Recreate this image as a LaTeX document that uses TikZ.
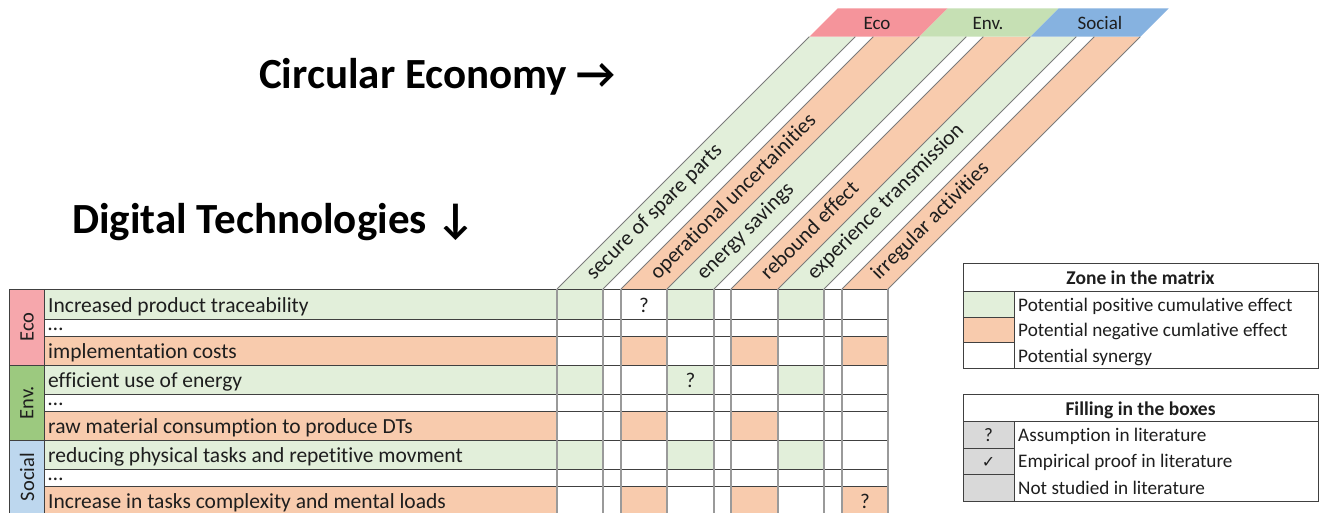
\documentclass[tikz,border=0pt]{standalone}
\usepackage{fontspec}
\setmainfont{Carlito}[Ligatures={NoCommon}]
\newfontfamily\djv{DejaVu Sans}
\definecolor{cgreen}{HTML}{E2EFDA}
\definecolor{corange}{HTML}{F8CBAD}
\definecolor{hpink}{HTML}{F5949B}
\definecolor{hgreen}{HTML}{C6E0B4}
\definecolor{hblue}{HTML}{86B2E0}
\definecolor{lpink}{HTML}{F6A7AC}
\definecolor{lgreen}{HTML}{9CC97F}
\definecolor{lblue}{HTML}{BDD7EE}
\definecolor{lgray}{HTML}{D9D9D9}
\definecolor{vgray}{HTML}{9A9A9A}
\definecolor{hgray}{HTML}{404040}
\definecolor{txt}{HTML}{1E1E1E}
\tikzset{
  vline/.style={draw=vgray, line width=1.3pt},
  hline/.style={draw=hgray, line width=0.9pt},
  sline/.style={draw=vgray!80!black, line width=0.9pt},
  lline/.style={draw=hgray, line width=1pt},
  rowtext/.style={font=\fontsize{21.5}{24}\selectfont, anchor=base west, inner sep=0pt, text=txt},
  coltext/.style={font=\fontsize{21.5}{24}\selectfont, anchor=base west, inner sep=0pt, rotate=45, text=txt},
  hdrtext/.style={font=\fontsize{19}{22}\selectfont, anchor=base, inner sep=0pt, text=txt},
  cattext/.style={font=\fontsize{20.5}{22}\selectfont, rotate=90, inner sep=0pt, text=txt},
  titletext/.style={font=\fontsize{43}{48}\selectfont\bfseries, anchor=base west, inner sep=0pt, text=black},
  legtext/.style={font=\fontsize{19.2}{22}\selectfont, anchor=base west, inner sep=0pt, text=txt},
  leghead/.style={font=\fontsize{19.5}{22}\selectfont\bfseries, anchor=base, inner sep=0pt, text=txt},
  qmark/.style={font=\fontsize{21}{24}\selectfont, anchor=base, inner sep=0pt, text=txt},
}
\begin{document}
\begin{tikzpicture}[x=1pt,y=-1pt]
\useasboundingbox (0,0) rectangle (1320,513);
\fill[white] (0,0) rectangle (1320,513);
\begin{scope}
\clip (0,0) rectangle (1320,513);
\def\sh{252.3}
\def\shb{280.7}
% slanted column fills
\foreach \xa/\xb/\cl in {557/603/cgreen, 603/621/white, 621/667/corange, 667/714/cgreen, 714/731/white, 731/778/corange, 778/824/cgreen, 824/842/white, 842/888/corange}
  \fill[\cl] (\xa,289) -- (\xb,289) -- (\xb+\sh,36.7) -- (\xa+\sh,36.7) -- cycle;
% header band
\fill[hpink] (557+\sh,36.7) -- (667+\sh,36.7) -- (667+\shb,8.3) -- (557+\shb,8.3) -- cycle;
\fill[hgreen] (667+\sh,36.7) -- (778+\sh,36.7) -- (778+\shb,8.3) -- (667+\shb,8.3) -- cycle;
\fill[hblue] (778+\sh,36.7) -- (888+\sh,36.7) -- (888+\shb,8.3) -- (778+\shb,8.3) -- cycle;
\node[hdrtext] (hEco) at (877,30) {Eco};
\node[hdrtext] (hEnv) at (988,30) {Env.};
\node[hdrtext] (hSoc) at (1100,30) {Social};
% slanted lines
\foreach \x in {557,603,621,667,714,731,778,824,842,888}
  \draw[sline] (\x,289) -- (\x+\sh,36.7);
% column labels
\node[coltext] (c1) at (594,281) {secure of spare parts};
\node[coltext] (c3) at (658,281) {operational uncertainities};
\node[coltext] (c4) at (704.5,281) {energy savings};
\node[coltext] (c6) at (768.5,281) {rebound effect};
\node[coltext] (c7) at (815,281) {experience transmission};
\node[coltext] (c9) at (879,281) {irregular activities};
% row label fills
\foreach \ya/\yb/\cl in {289/319/cgreen, 319/336/white, 336/365/corange, 365/394/cgreen, 394/411/white, 411/440/corange, 440/469/cgreen, 469/486/white, 486/515/corange}
  \fill[\cl] (44,\ya) rectangle (557,\yb);
% matrix cells
\foreach \ya/\yb in {289/319, 365/394, 440/469}
  \foreach \xa/\xb in {557/603, 667/714, 778/824}
    \fill[cgreen] (\xa,\ya) rectangle (\xb,\yb);
\foreach \ya/\yb in {336/365, 486/515}
  \foreach \xa/\xb in {621/667, 731/778, 842/888}
    \fill[corange] (\xa,\ya) rectangle (\xb,\yb);
\foreach \xa/\xb in {621/667, 731/778}
  \fill[corange] (\xa,411) rectangle (\xb,440);
% category boxes
\fill[lpink] (9,289) rectangle (44,365);
\fill[lgreen] (9,365) rectangle (44,440);
\fill[lblue] (9,440) rectangle (44,515);
% grid lines
\foreach \y in {289,319,336,365,394,411,440,469,486}
  \draw[hline] (44,\y) -- (888,\y);
\foreach \y in {289,365,440}
  \draw[hline] (9,\y) -- (44,\y);
\draw[hline] (9,289) -- (9,515);
\draw[hline] (44,289) -- (44,515);
\foreach \x in {557,603,621,667,714,731,778,824,842,888}
  \draw[vline] (\x,289) -- (\x,515);
% category labels
\node[cattext] (kEco) at (27,327) {Eco};
\node[cattext] (kEnv) at (27,402.5) {Env.};
\node[cattext] (kSoc) at (27,477) {Social};
% row labels
\node[rowtext] (r1) at (48,312.5) {Increased product traceability};
\node[rowtext] (r2) at (48,330.5) {…};
\node[rowtext] (r3) at (48,358.5) {implementation costs};
\node[rowtext] (r4) at (48,387.5) {efficient use of energy};
\node[rowtext] (r5) at (48,405.5) {…};
\node[rowtext] (r6) at (48,433.5) {raw material consumption to produce DTs};
\node[rowtext] (r7) at (48,462.5) {reducing physical tasks and repetitive movment};
\node[rowtext] (r8) at (48,480.5) {…};
\node[rowtext] (r9) at (48,508.5) {Increase in tasks complexity and mental loads};
% question marks
\node[qmark] (q1) at (644,312) {?};
\node[qmark] (q2) at (690.5,387) {?};
\node[qmark] (q3) at (865,508) {?};
\end{scope}
% titles
\node[titletext] (tCE) at (259,89) {Circular Economy →};
\node[titletext] (tDT) at (72,234) {Digital Technologies ↓};
% legend: zone
\fill[cgreen] (963,291) rectangle (1014,317);
\fill[corange] (963,317) rectangle (1014,342);
\draw[lline] (963,263) rectangle (1318,368);
\draw[lline] (963,291) -- (1318,291);
\draw[lline] (1014,291) -- (1014,368);
\draw[lline] (963,317) -- (1014,317);
\draw[lline] (963,342) -- (1014,342);
\node[leghead] (zh) at (1140.5,284) {Zone in the matrix};
\node[legtext] (z1) at (1018,311) {Potential positive cumulative effect};
\node[legtext] (z2) at (1018,336) {Potential negative cumlative effect};
\node[legtext] (z3) at (1018,362) {Potential synergy};
% legend: filling
\fill[lgray] (963,421) rectangle (1014,501);
\draw[lline] (963,394) rectangle (1318,501);
\draw[lline] (963,421) -- (1318,421);
\draw[lline] (1014,421) -- (1014,501);
\draw[lline] (963,448) -- (1014,448);
\draw[lline] (963,474) -- (1014,474);
\node[leghead] (fh) at (1140.5,415) {Filling in the boxes};
\node[qmark, font=\fontsize{19}{22}\selectfont] (f1s) at (988.5,441) {?};
\node[qmark, font=\djv\fontsize{16}{20}\selectfont] (f2s) at (988.5,467) {✓};
\node[legtext] (f1) at (1018,441) {Assumption in literature};
\node[legtext] (f2) at (1018,467) {Empirical proof in literature};
\node[legtext] (f3) at (1018,494) {Not studied in literature};
\end{tikzpicture}
\end{document}
